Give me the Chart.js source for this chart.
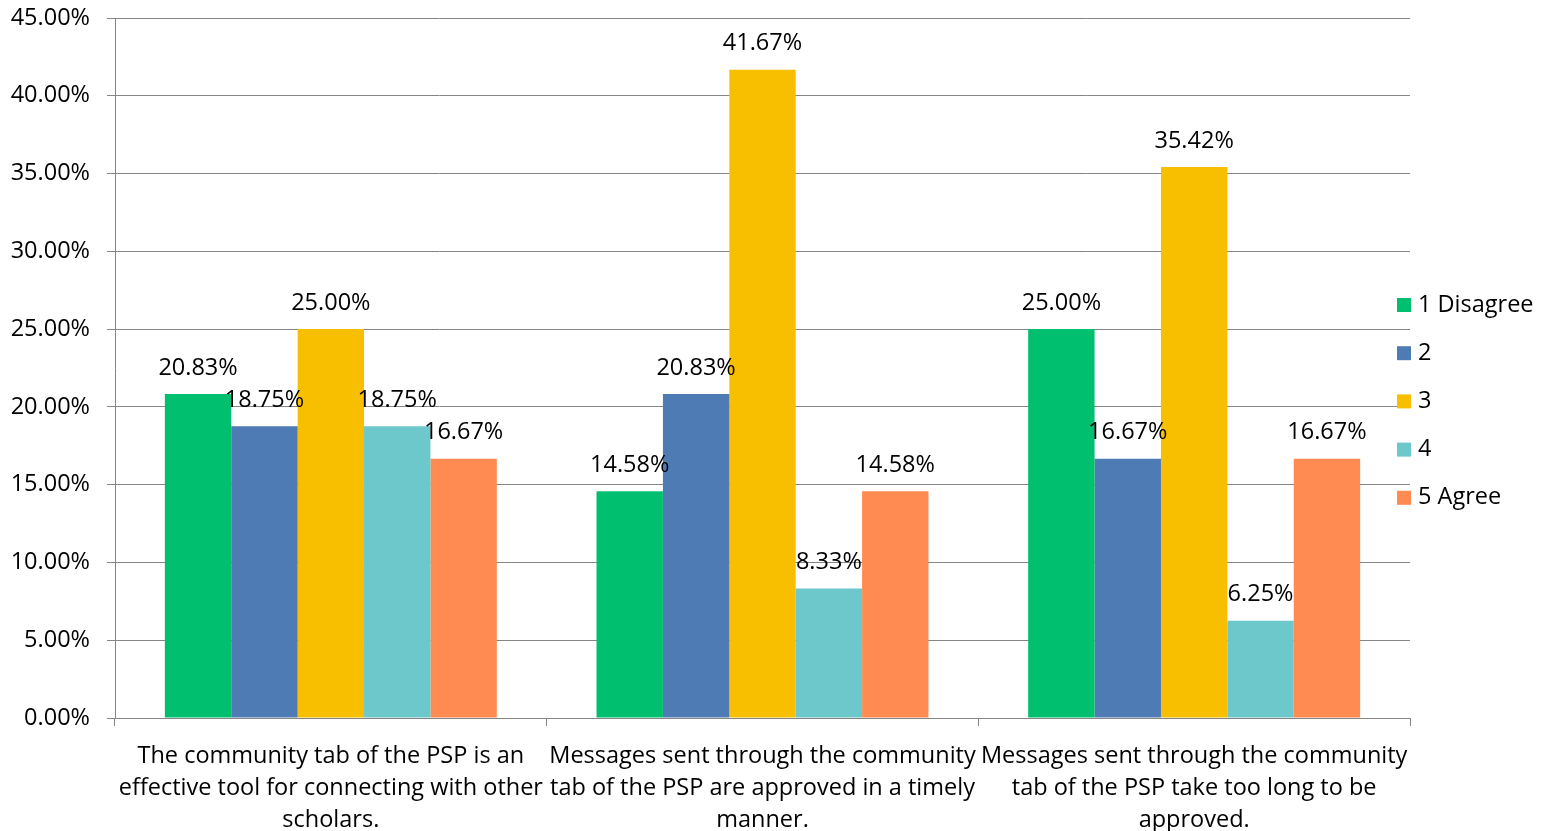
<!DOCTYPE html>
<html>
<head>
<meta charset="utf-8">
<script src="https://cdn.jsdelivr.net/npm/chart.js@4.4.1/dist/chart.umd.min.js"></script>
<style>
  html, body { margin: 0; padding: 0; background: #fff; }
  #wrap { width: 1545px; height: 831px; }
</style>
</head>
<body>
<div id="wrap"><canvas id="myChart" width="1545" height="831"></canvas></div>
<script>
const categories = [
  ['The community tab of the PSP is an', 'effective tool for connecting with other', 'scholars.'],
  ['Messages sent through the community', 'tab of the PSP are approved in a timely', 'manner.'],
  ['Messages sent through the community', 'tab of the PSP take too long to be', 'approved.']
];
const seriesNames = ['1 Disagree', '2', '3', '4', '5 Agree'];
const disagree = [20.83, 14.58, 25.00];
const two = [18.75, 20.83, 16.67];
const three = [25.00, 41.67, 35.42];
const four = [18.75, 8.33, 6.25];
const agree = [16.67, 14.58, 16.67];
const colors = ['#00BF6F', '#4F7BB5', '#F8BE00', '#6CC8CB', '#FF8B52'];

const FONT = '"Open Sans", "Liberation Sans", sans-serif';
const FS = 23.5;
const gridColor = '#868686';

// value labels above each bar
const barLabels = {
  id: 'barLabels',
  afterDatasetsDraw(chart) {
    const ctx = chart.ctx;
    ctx.save();
    ctx.font = FS + 'px ' + FONT;
    ctx.fillStyle = '#000';
    ctx.textAlign = 'center';
    ctx.textBaseline = 'middle';
    chart.data.datasets.forEach((ds, i) => {
      chart.getDatasetMeta(i).data.forEach((bar, j) => {
        ctx.fillText(ds.data[j].toFixed(2) + '%', bar.x, bar.y - 26);
      });
    });
    ctx.restore();
  }
};

// legend drawn at the right, like the original
const sideLegend = {
  id: 'sideLegend',
  afterDraw(chart) {
    const ctx = chart.ctx;
    ctx.save();
    ctx.font = FS + 'px ' + FONT;
    ctx.textAlign = 'left';
    ctx.textBaseline = 'middle';
    chart.data.datasets.forEach((ds, i) => {
      const y = 305 + i * 48.2;
      ctx.fillStyle = ds.backgroundColor;
      ctx.fillRect(1397, y - 7, 14, 14);
      ctx.fillStyle = '#000';
      ctx.fillText(ds.label, 1418, y);
    });
    ctx.restore();
  }
};

const seriesData = [disagree, two, three, four, agree];

new Chart(document.getElementById('myChart'), {
  type: 'bar',
  data: {
    labels: categories,
    datasets: seriesNames.map((name, i) => ({
      label: name,
      data: seriesData[i],
      backgroundColor: colors[i],
      borderWidth: 0,
      categoryPercentage: 0.769,
      barPercentage: 1.0
    }))
  },
  options: {
    responsive: false,
    animation: false,
    layout: { padding: { top: 18, right: 135, left: 0, bottom: 0 } },
    plugins: {
      legend: { display: false },
      tooltip: { enabled: false }
    },
    scales: {
      x: {
        grid: { drawOnChartArea: false, drawTicks: true, tickLength: 8, color: gridColor, offset: true },
        border: { color: gridColor },
        ticks: {
          color: '#000',
          font: { family: FONT, size: FS, lineHeight: 1.36 },
          maxRotation: 0, minRotation: 0, autoSkip: false, padding: 14
        },
        afterFit(scale) { scale.height = 113; scale.paddingLeft = 0; scale.paddingRight = 0; }
      },
      y: {
        min: 0, max: 45,
        grid: { color: gridColor, tickLength: 8 },
        border: { color: gridColor },
        ticks: {
          stepSize: 5,
          color: '#000',
          font: { family: FONT, size: FS },
          padding: 17,
          callback: v => v.toFixed(2) + '%'
        },
        afterFit(scale) { scale.width = 115; scale.paddingTop = 0; scale.paddingBottom = 0; }
      }
    }
  },
  plugins: [barLabels, sideLegend]
});
</script>
</body>
</html>
